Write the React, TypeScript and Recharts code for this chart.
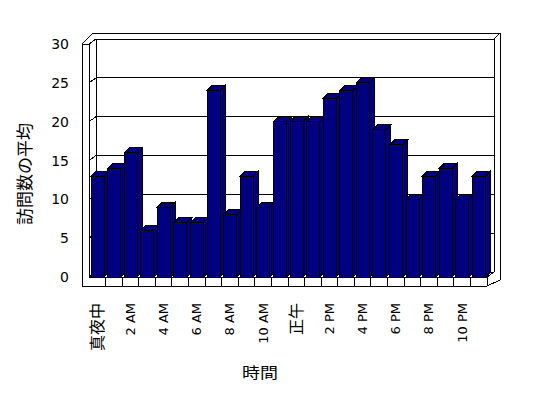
import React from 'react';
import { BarChart, Bar, XAxis, YAxis, CartesianGrid, Customized, usePlotArea } from 'recharts';

const hours = [
  '真夜中', '1 AM', '2 AM', '3 AM', '4 AM', '5 AM', '6 AM', '7 AM', '8 AM', '9 AM', '10 AM', '11 AM',
  '正午', '1 PM', '2 PM', '3 PM', '4 PM', '5 PM', '6 PM', '7 PM', '8 PM', '9 PM', '10 PM', '11 PM',
];
const visits = [13, 14, 16, 6, 9, 7, 7, 24, 8, 13, 9, 20, 20, 20, 23, 24, 25, 19, 17, 10, 13, 14, 10, 13];
const yTicks = [0, 5, 10, 15, 20, 25, 30];
const yTitle = '訪問数の平均';
const xTitle = '時間';

const data = hours.map((h, i) => ({ hour: h, visits: visits[i] }));

const WALL_DX = 7;
const WALL_DY = -5;
const BAR_DX = 5;
const BAR_DY = -5;
const NAVY = '#000080';
const FONT = '"DejaVu Sans", "Noto Sans CJK JP", sans-serif';
const CJK = '"Noto Sans CJK JP", sans-serif';

function Bar3D(props: any) {
  const { x, y, width, height } = props;
  if (x == null || y == null || !(height > 0)) return <g />;
  const top = `${x},${y} ${x + BAR_DX},${y + BAR_DY} ${x + width + BAR_DX},${y + BAR_DY} ${x + width},${y}`;
  const side = `${x + width},${y} ${x + width + BAR_DX},${y + BAR_DY} ${x + width + BAR_DX},${y + height + BAR_DY} ${x + width},${y + height}`;
  return (
    <g>
      <polygon points={side} fill={NAVY} stroke="#000" strokeWidth={1} />
      <polygon points={top} fill={NAVY} stroke="#000" strokeWidth={1} />
      <rect x={x} y={y} width={width} height={height} fill={NAVY} stroke="#000" strokeWidth={1} />
    </g>
  );
}

function gridLine(p: any) {
  const pts = `${p.x1},${p.y1} ${p.x1 + WALL_DX},${p.y1 + WALL_DY} ${p.x2 + WALL_DX},${p.y2 + WALL_DY}`;
  return <polyline key={p.key ?? `g${p.index}`} points={pts} fill="none" stroke="#000" strokeWidth={1} />;
}

function Frame() {
  const p: any = usePlotArea();
  if (!p) return null;
  const L = p.x;
  const R = p.x + p.width;
  const T = p.y;
  const B = p.y + p.height;
  const s = { stroke: '#000', strokeWidth: 1, fill: 'none' } as any;
  return (
    <g>
      <line x1={L + WALL_DX} y1={T + WALL_DY} x2={L + WALL_DX} y2={B + WALL_DY} {...s} />
      <line x1={R + WALL_DX} y1={T + WALL_DY} x2={R + WALL_DX} y2={B + WALL_DY} {...s} />
      <polyline points={`${L - 7},${T} ${L + 4},${T - 11} ${R + 13},${T - 11} ${R + 13},${B + 3} ${R},${B + 9}`} {...s} />
      <line x1={R + WALL_DX} y1={T + WALL_DY} x2={R + 13} y2={T - 11} {...s} />
      <line x1={R} y1={B} x2={R + WALL_DX} y2={B + WALL_DY} {...s} />
      <polyline points={`${L - 7},${B + 9} ${L - 7},${T} ${L},${T} ${L},${B}`} {...s} />
      <line x1={L} y1={T} x2={L + WALL_DX} y2={T + WALL_DY} {...s} />
      <line x1={L} y1={B} x2={R} y2={B} {...s} />
      <line x1={L - 7} y1={B + 9} x2={R} y2={B + 9} {...s} />
      <line x1={R} y1={B} x2={R} y2={B + 9} {...s} />
      <text
        transform={`translate(${L + 171},${B + 95}) scale(1.2,1)`}
        textAnchor="middle"
        dominantBaseline="central"
        fontSize={15}
        fontFamily={CJK}
        fill="#000"
      >
        {xTitle}
      </text>
      <text
        transform={`translate(${L - 65.5},${T + 130}) rotate(-90)`}
        textAnchor="middle"
        dominantBaseline="central"
        fontSize={17}
        fontFamily={CJK}
        fill="#000"
      >
        {yTitle}
      </text>
    </g>
  );
}

function XTick(props: any) {
  const { x, y, index, payload, width } = props;
  const bw = typeof width === 'number' && width > 0 ? width / hours.length : 16.6;
  const label = String(payload?.value ?? '');
  const isCjk = /[^\x00-\x7f]/.test(label);
  return (
    <g>
      {index < hours.length - 1 && (
        <line x1={x + bw / 2} y1={y} x2={x + bw / 2} y2={y + 9} stroke="#000" strokeWidth={1} />
      )}
      {index % 2 === 0 && (
        <text
          transform={`translate(${x + (isCjk ? 6 : 4.5)},${y + 26}) rotate(-90)`}
          textAnchor="end"
          fontSize={isCjk ? 16 : 13}
          fontFamily={isCjk ? CJK : FONT}
          fill="#000"
        >
          {label}
        </text>
      )}
    </g>
  );
}

function YTick(props: any) {
  const { x, y, payload } = props;
  return (
    <text x={x} y={y} dy={5} textAnchor="end" fontSize={14} fontFamily={FONT} fill="#000">
      {payload.value}
    </text>
  );
}

export default function App() {
  return (
    <div style={{ width: 540, height: 390 }}>
      <BarChart
        width={540}
        height={390}
        data={data}
        margin={{ top: 36, right: 61, bottom: 0, left: 21 }}
        barCategoryGap={0}
        style={{ shapeRendering: 'crispEdges' } as any}
      >
        <CartesianGrid vertical={false} horizontal={gridLine as any} />
        <Customized component={<Frame />} />
        <XAxis
          dataKey="hour"
          interval={0}
          height={121}
          tickSize={0}
          tickMargin={0}
          axisLine={false}
          tickLine={false}
          tick={<XTick />}
        />
        <YAxis
          domain={[0, 30]}
          ticks={yTicks}
          width={60}
          tickSize={0}
          tickMargin={20}
          axisLine={false}
          tickLine={false}
          tick={<YTick />}
        />
        <Bar dataKey="visits" barSize={13} shape={Bar3D} isAnimationActive={false} />
      </BarChart>
    </div>
  );
}
